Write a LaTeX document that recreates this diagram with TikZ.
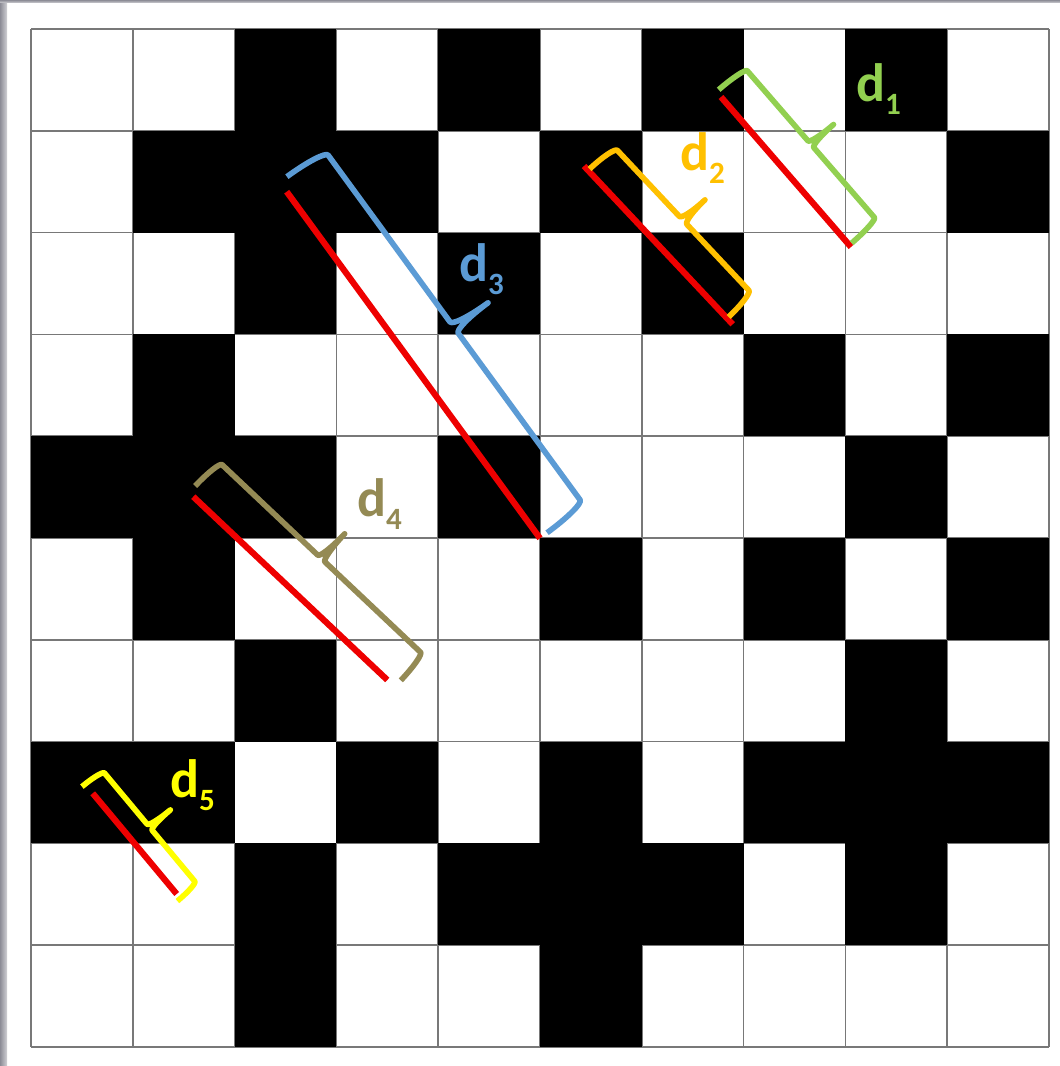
\documentclass[tikz,border=0pt]{standalone}
\usepackage{fontspec}
\setmainfont{Carlito}
\definecolor{gridgray}{RGB}{120,120,120}
\definecolor{mred}{RGB}{238,0,0}
\definecolor{mgreen}{RGB}{146,208,80}
\definecolor{morange}{RGB}{255,192,0}
\definecolor{mblue}{RGB}{91,155,213}
\definecolor{molive}{RGB}{148,138,84}
\definecolor{myellow}{RGB}{255,255,0}
\definecolor{edgegray}{RGB}{140,140,150}
\newcommand{\subdig}[1]{\raisebox{-13pt}{\fontsize{31}{31}\selectfont #1}}
% #1 start coord, #2 end coord, #3 colour, #4 a, #5 b, #6 H, #7 T, #8 r, #9 v0
\newcommand{\mymeasure}[9]{%
  \draw[redline] (#1) -- (#2);
  \pgfmathanglebetweenpoints{\pgfpointanchor{#1}{center}}{\pgfpointanchor{#2}{center}}%
  \let\myang\pgfmathresult
  \pgfmathsetmacro\mymid{(#4+#5)/2}%
  \begin{scope}[shift={(#1)}, rotate=\myang]
    \draw[bracestyle, draw=#3] (#4,#9)
      arc[start angle=180, end angle=90, x radius=#8, y radius={#6-(#9)}]
      -- ({\mymid-#8},#6)
      arc[start angle=270, end angle=360, x radius=#8, y radius=#7]
      arc[start angle=180, end angle=270, x radius=#8, y radius=#7]
      -- ({#5-#8},#6)
      arc[start angle=90, end angle=0, x radius=#8, y radius={#6-(#9)}];
  \end{scope}}
\tikzset{
  gridline/.style={draw=gridgray, line width=1.5pt},
  blackcell/.style={fill=black},
  redline/.style={draw=mred, line width=6.2pt, line cap=butt},
  bracestyle/.style={line width=5.6pt, line cap=butt, line join=round},
  lbl/.style={anchor=base west, inner sep=0pt, font=\fontsize{54}{54}\selectfont\bfseries},
}
\begin{document}
\begin{tikzpicture}[x=1pt,y=1pt]
\useasboundingbox (0,0) rectangle (1060,1066);
\fill[white] (0,0) rectangle (1060,1066);
\shade[left color=edgegray, right color=edgegray!40] (0,0) rectangle (7,1066);
\shade[top color=edgegray, bottom color=edgegray!40] (0,1063) rectangle (1060,1066);

\begin{scope}[shift={(31pt,19pt)}, x=101.8pt, y=101.8pt]
  \foreach \k in {0,...,10} {
    \draw[gridline] (\k,0) -- (\k,10);
    \draw[gridline] (0,\k) -- (10,\k);
  }
  \foreach \r/\c in {0/2,0/4,0/6,0/8,
                     1/1,1/2,1/3,1/5,1/9,
                     2/2,2/4,2/6,
                     3/1,3/7,3/9,
                     4/0,4/1,4/2,4/4,4/8,
                     5/1,5/5,5/7,5/9,
                     6/2,6/8,
                     7/0,7/1,7/3,7/5,7/7,7/8,7/9,
                     8/2,8/4,8/5,8/6,8/8,
                     9/2,9/5}
    \fill[blackcell] (\c,9-\r) rectangle ++(1,1);
\end{scope}

\coordinate (A1) at (721,969);   \coordinate (B1) at (851,819);
\coordinate (A2) at (584,900);   \coordinate (B2) at (732.7,741.7);
\coordinate (A3) at (286.7,874.3); \coordinate (B3) at (540,527.7);
\coordinate (A4) at (193.3,569.3); \coordinate (B4) at (387.3,386);
\coordinate (A5) at (92.7,272.7);  \coordinate (B5) at (176.7,172);

\mymeasure{A1}{B1}{mgreen}{-7}{196}{37}{30}{4.5}{3}
\mymeasure{A2}{B2}{morange}{6}{209}{35}{30}{5.5}{2}
\mymeasure{A3}{B3}{mblue}{-12}{429}{55}{42}{7}{9}
\mymeasure{A4}{B4}{molive}{-6}{277}{43}{34}{5}{9}
\mymeasure{A5}{B5}{myellow}{-12}{137}{22}{27}{4}{-4}

\node[lbl, text=mgreen]  (l1) at (856,964) {d\subdig{1}};
\node[lbl, text=morange] (l2) at (680,895) {d\subdig{2}};
\node[lbl, text=mblue]   (l3) at (459,784) {d\subdig{3}};
\node[lbl, text=molive]  (l4) at (357,549) {d\subdig{4}};
\node[lbl, text=myellow] (l5) at (170,268) {d\subdig{5}};
\end{tikzpicture}
\end{document}
